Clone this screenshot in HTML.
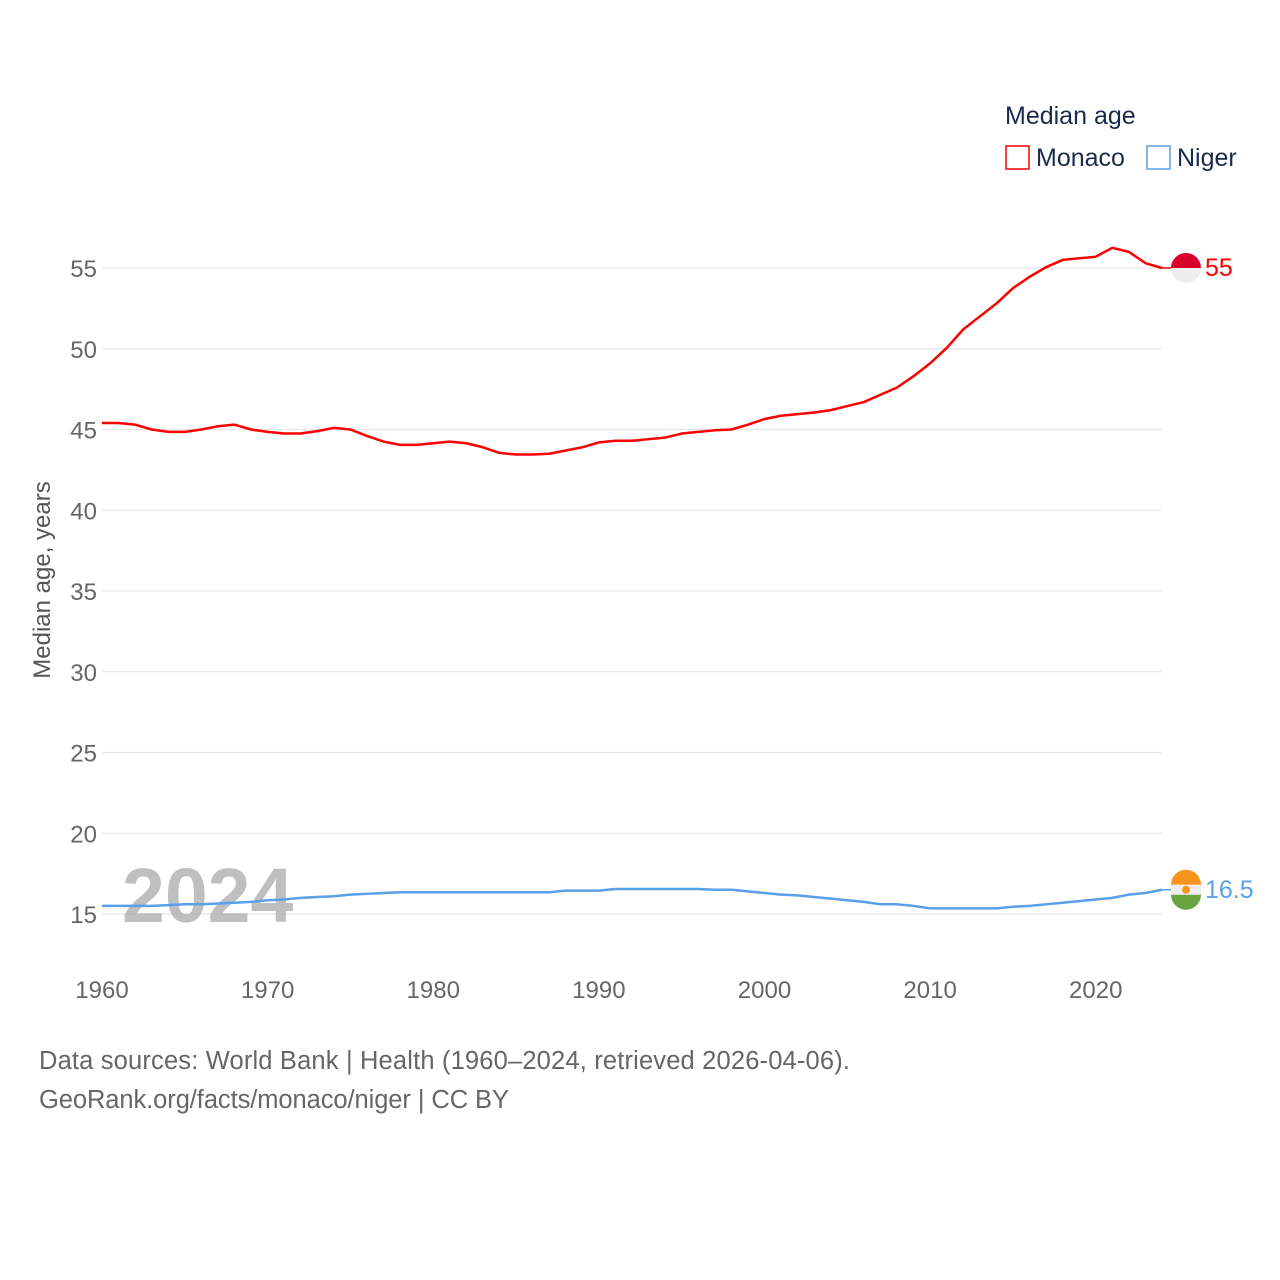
<!DOCTYPE html>
<html><head><meta charset="utf-8"><style>
body{margin:0;background:#fff;}
svg{display:block;font-family:"Liberation Sans",sans-serif;}
</style></head><body>
<svg id="chart" width="1280" height="1280" viewBox="0 0 1280 1280">
<rect width="1280" height="1280" fill="#fff"/>
<g id="grid"></g>
<g id="yticks"></g>
<g id="xticks"></g>
<text x="122" y="922" font-size="77" font-weight="bold" fill="#aaa" opacity="0.75">2024</text>
<g id="series"></g>
<text transform="translate(50,580) rotate(-90)" text-anchor="middle" font-size="24" fill="#555">Median age, years</text>
<text x="1005" y="124" font-size="25" fill="#1a2a4a">Median age</text>
<g><rect x="1006" y="146" width="23" height="23" fill="none" stroke="#f00" stroke-width="1.5"/><text x="1036" y="166" font-size="25" fill="#1a2a4a">Monaco</text></g>
<g><rect x="1147" y="146" width="23" height="23" fill="none" stroke="#5aa0e8" stroke-width="1.5"/><text x="1177" y="166" font-size="25" fill="#1a2a4a">Niger</text></g>
<text x="39" y="1069" font-size="25.5" fill="#666" textLength="811">Data sources: World Bank | Health (1960–2024, retrieved 2026-04-06).</text>
<text x="39" y="1108" font-size="25.5" fill="#666" textLength="470">GeoRank.org/facts/monaco/niger | CC BY</text>
</svg>
<script>
const years=[];for(let y=1960;y<=2024;y++)years.push(y);
const monaco=[45.4,45.4,45.3,45.0,44.85,44.85,45.0,45.2,45.3,45.0,44.85,44.75,44.75,44.9,45.1,45.0,44.6,44.25,44.05,44.05,44.15,44.25,44.15,43.9,43.55,43.45,43.45,43.5,43.7,43.9,44.2,44.3,44.3,44.4,44.5,44.75,44.85,44.95,45.0,45.3,45.65,45.85,45.95,46.05,46.2,46.45,46.7,47.15,47.6,48.3,49.1,50.05,51.2,52.0,52.8,53.75,54.45,55.05,55.5,55.6,55.7,56.25,56.0,55.3,55.0];
const niger=[15.5,15.5,15.5,15.5,15.55,15.6,15.6,15.65,15.7,15.75,15.85,15.9,16.0,16.05,16.1,16.2,16.25,16.3,16.35,16.35,16.35,16.35,16.35,16.35,16.35,16.35,16.35,16.35,16.45,16.45,16.45,16.55,16.55,16.55,16.55,16.55,16.55,16.5,16.5,16.4,16.3,16.2,16.15,16.05,15.95,15.85,15.75,15.6,15.6,15.5,15.35,15.35,15.35,15.35,15.35,15.45,15.5,15.6,15.7,15.8,15.9,16.0,16.2,16.3,16.5];
const yTicks=[15,20,25,30,35,40,45,50,55];
const xTicks=[1960,1970,1980,1990,2000,2010,2020];
const NS='http://www.w3.org/2000/svg';
const X=y=>102+(y-1960)*(1162-102)/64;
const Y=v=>914-(v-15)*(914-268)/40;
function mk(tag,attrs,parent,txt){const e=document.createElementNS(NS,tag);for(const k in attrs)e.setAttribute(k,attrs[k]);if(txt!=null)e.textContent=txt;parent.appendChild(e);return e;}
const grid=document.getElementById('grid'),yt=document.getElementById('yticks'),xt=document.getElementById('xticks'),ser=document.getElementById('series');
yTicks.forEach(v=>{
  const l=mk('line',{x1:102,x2:1162,y1:Y(v),y2:Y(v),stroke:'#e6e6e6','stroke-width':1.3},grid);
  
  
  const t=mk('text',{x:97,y:Y(v)+9,'text-anchor':'end','font-size':24,fill:'#666'},yt,v);
  
  
});
xTicks.forEach(v=>{
  const t=mk('text',{x:X(v),y:998,'text-anchor':'middle','font-size':24,fill:'#666'},xt,v);
  
  
});
function line(data,color,name){
  const p=mk('polyline',{points:data.map((v,i)=>X(years[i])+','+Y(v)).join(' '),fill:'none',stroke:color,'stroke-width':2.5,'stroke-linejoin':'round'},ser);
  
  
}
line(monaco,'#ff0000','line-monaco');
line(niger,'#5aa0e8','line-niger');
const mLast=monaco[monaco.length-1],nLast=niger[niger.length-1];
const mx=1186,my=Y(mLast),ny=Y(nLast);
mk('line',{x1:X(2024),x2:mx,y1:my,y2:my,stroke:'#ff0000','stroke-width':1.5},ser);
mk('line',{x1:X(2024),x2:mx,y1:ny,y2:ny,stroke:'#5aa0e8','stroke-width':1.5},ser);
const fm=mk('g',{},ser);


mk('path',{d:`M${mx-15},${my} A15,15 0 0 1 ${mx+15},${my} Z`,fill:'#d8002b'},fm);
mk('path',{d:`M${mx-15},${my} A15,15 0 0 0 ${mx+15},${my} Z`,fill:'#eee'},fm);
const fn=mk('g',{},ser);


mk('path',{d:`M${mx-15},${ny-5} A15,15 0 0 1 ${mx+15},${ny-5} Z`,fill:'#f7941d'},fn);
mk('rect',{x:mx-15,y:ny-5,width:30,height:10,fill:'#eee'},fn);
mk('path',{d:`M${mx-15},${ny+5} A15,15 0 0 0 ${mx+15},${ny+5} Z`,fill:'#6aa342'},fn);
mk('circle',{cx:mx,cy:ny,r:4,fill:'#f7941d'},fn);
const lm=mk('text',{x:1205,y:my+8,'font-size':25,fill:'#ff0000'},ser,String(mLast));


const ln=mk('text',{x:1205,y:ny+8,'font-size':25,fill:'#5aa0e8'},ser,String(nLast));


</script>
</body></html>
